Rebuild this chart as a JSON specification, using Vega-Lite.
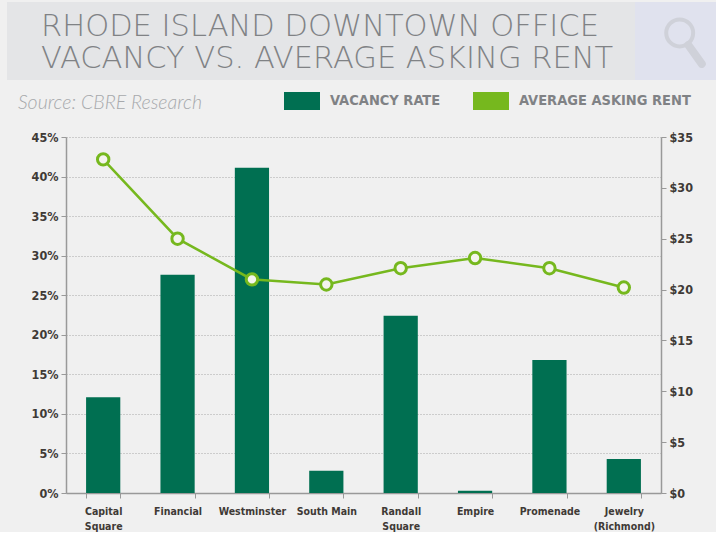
{"$schema":"https://vega.github.io/schema/vega-lite/v6.json","background":"#f0f0f0","padding":{"left":4,"top":2,"right":0,"bottom":0},"spacing":12,"config":{"concat":{"spacing":0},"view":{"stroke":null}},"vconcat":[{"hconcat":[{"width":628,"height":78,"view":{"fill":"#e4e5e7","stroke":null},"title":{"text":["RHODE ISLAND DOWNTOWN OFFICE","VACANCY VS. AVERAGE ASKING RENT"],"orient":"top","anchor":"start","dx":34,"offset":-72,"baseline":"top","align":"left","font":"DejaVu Sans","fontWeight":200,"fontSize":30.5,"lineHeight":32,"color":"#808285"},"data":{"values":[{}]},"mark":{"type":"point","opacity":0},"encoding":{}},{"width":84,"height":78,"view":{"fill":"#e0e2ee","stroke":null},"data":{"values":[{}]},"layer":[{"mark":{"type":"point","shape":"M-0.4,-0.3A0.5,0.5 0 1 1 0.6,-0.3A0.5,0.5 0 1 1 -0.4,-0.3Z","size":2900,"stroke":"#cfd1d9","strokeWidth":4,"fill":"#e0e2ee","opacity":1},"encoding":{}},{"mark":{"type":"point","shape":"M0.42,0.15L0.92,0.85","size":2900,"stroke":"#cfd1d9","strokeWidth":8,"strokeCap":"round","opacity":1},"encoding":{}}]}]},{"hconcat":[{"width":1,"height":356,"data":{"values":[{}]},"mark":{"type":"point","opacity":0},"encoding":{}},{"width":595,"height":356,"title":{"text":"Source: CBRE Research","anchor":"start","frame":"group","dx":-48,"offset":18,"font":"Lato","fontStyle":"italic","fontWeight":300,"fontSize":19.5,"color":"#a7a9ac"},"data":{"values":[{"district":"Capital Square","vacancy":12.1,"rent":32.8},{"district":"Financial","vacancy":27.6,"rent":25.0},{"district":"Westminster","vacancy":41.1,"rent":21.0},{"district":"South Main","vacancy":2.8,"rent":20.5},{"district":"Randall Square","vacancy":22.4,"rent":22.1},{"district":"Empire","vacancy":0.3,"rent":23.1},{"district":"Promenade","vacancy":16.8,"rent":22.1},{"district":"Jewelry (Richmond)","vacancy":4.3,"rent":20.2}]},"encoding":{"x":{"field":"district","type":"nominal","sort":null,"title":null,"scale":{"paddingInner":0.54,"paddingOuter":0.27},"axis":{"labelAngle":0,"labelFont":"DejaVu Sans Condensed","labelFontWeight":"bold","labelFontSize":10.5,"labelColor":"#3f3a36","labelPadding":8,"labelLineHeight":15,"labelLimit":0,"labelExpr":"{'Capital Square':['Capital','Square'],'Randall Square':['Randall','Square'],'Jewelry (Richmond)':['Jewelry','(Richmond)']}[datum.label] || datum.label","tickBand":"extent","tickColor":"#999999","tickSize":5,"domainColor":"#999999","domainWidth":1.5,"grid":false}}},"layer":[{"mark":{"type":"bar"},"encoding":{"y":{"field":"vacancy","type":"quantitative","title":null,"scale":{"domain":[0,45]},"axis":{"values":[0,5,10,15,20,25,30,35,40,45],"labelExpr":"datum.value + '%'","labelFont":"DejaVu Sans Condensed","labelFontWeight":"bold","labelFontSize":12.5,"labelColor":"#3f3a36","labelPadding":3,"tickColor":"#999999","tickSize":5,"domainColor":"#999999","domainWidth":1.5,"grid":true,"gridColor":"#a8a8a8","gridDash":[1,2],"gridWidth":1,"minExtent":55,"maxExtent":55}},"color":{"datum":"VACANCY RATE","scale":{"domain":["VACANCY RATE","AVERAGE ASKING RENT"],"range":["#006f51","#76b81e"]},"legend":{"title":null,"orient":"none","legendX":277,"legendY":81,"direction":"horizontal","symbolType":"M-1,-0.5H1V0.5H-1Z","symbolSize":1296,"symbolOpacity":1,"symbolStrokeWidth":0,"labelFont":"DejaVu Sans Condensed","labelFontWeight":"bold","labelFontSize":14.5,"labelColor":"#808285","labelLimit":0,"labelOffset":10,"columnPadding":32}}}},{"layer":[{"mark":{"type":"line","color":"#76b81e","strokeWidth":2.5}},{"mark":{"type":"point","filled":true,"fill":"#f4f4ee","stroke":"#76b81e","strokeWidth":3,"size":130,"opacity":1}}],"encoding":{"y":{"field":"rent","type":"quantitative","title":null,"scale":{"domain":[0,35]},"axis":{"orient":"right","values":[0,5,10,15,20,25,30,35],"labelExpr":"'$' + datum.value","labelFont":"DejaVu Sans Condensed","labelFontWeight":"bold","labelFontSize":12.5,"labelColor":"#3f3a36","labelPadding":3,"tickColor":"#999999","tickSize":5,"domainColor":"#999999","domainWidth":1.5,"grid":false}}}}],"resolve":{"scale":{"y":"independent"},"axis":{"y":"independent"}}}]}]}
